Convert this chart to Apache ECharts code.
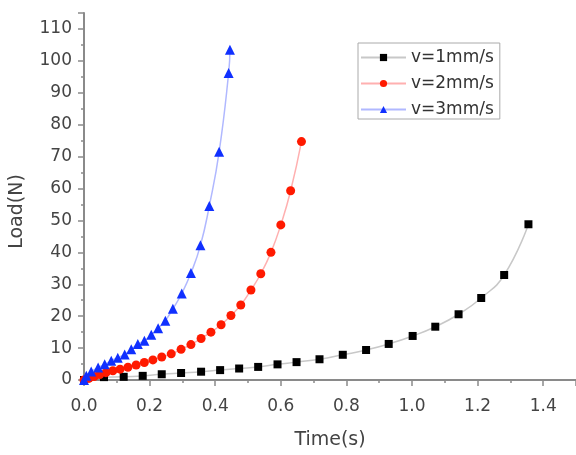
<!DOCTYPE html>
<html>
<head>
<meta charset="utf-8">
<script src="https://cdn.jsdelivr.net/npm/echarts@6/dist/echarts.min.js"></script>
<style>
html,body{margin:0;padding:0;background:#fff;}
#c{width:576px;height:455px;}
</style>
</head>
<body>
<div id="c"></div>
<script>
const seriesNames = ['v=1mm/s', 'v=2mm/s', 'v=3mm/s'];

const t1 = [0, 0.061, 0.121, 0.179, 0.237, 0.296, 0.357, 0.415, 0.473, 0.531, 0.590, 0.648, 0.718, 0.789, 0.860, 0.929, 1.002, 1.071, 1.142, 1.211, 1.281, 1.355];
const load1 = [0, 0.9, 1.0, 1.3, 1.8, 2.2, 2.6, 3.1, 3.6, 4.1, 4.9, 5.6, 6.5, 7.9, 9.4, 11.3, 13.8, 16.7, 20.6, 25.7, 32.9, 48.8];

const t2 = [0, 0.015, 0.031, 0.048, 0.067, 0.088, 0.110, 0.134, 0.159, 0.184, 0.210, 0.237, 0.266, 0.296, 0.326, 0.357, 0.387, 0.418, 0.448, 0.478, 0.509, 0.539, 0.570, 0.600, 0.630, 0.663];
const load2 = [0, 0.5, 1.1, 1.7, 2.3, 2.9, 3.4, 4.0, 4.7, 5.5, 6.3, 7.2, 8.2, 9.6, 11.1, 13.0, 15.0, 17.3, 20.2, 23.5, 28.2, 33.3, 40.0, 48.6, 59.3, 74.7];

const t3 = [0, 0.007, 0.022, 0.043, 0.063, 0.083, 0.103, 0.124, 0.144, 0.164, 0.184, 0.205, 0.226, 0.248, 0.271, 0.298, 0.326, 0.355, 0.382, 0.412, 0.441, 0.445];
const load3 = [0, 1.3, 2.7, 3.9, 4.9, 6.0, 7.0, 8.0, 9.6, 11.3, 12.3, 14.2, 16.2, 18.6, 22.3, 27.1, 33.5, 42.2, 54.5, 71.5, 96.2, 103.5];

const xName = 'Time(s)';
const yName = 'Load(N)';

function pairs(xs, ys) { return xs.map((x, i) => [x, ys[i]]); }

const FONT = '"DejaVu Sans", sans-serif';
const axisColor = '#8a8a8a';
const labelColor = '#444';

const chart = echarts.init(document.getElementById('c'), null, {renderer: 'canvas'});
chart.setOption({
  animation: false,
  backgroundColor: '#fff',
  grid: {left: 84, right: 0, top: 13, bottom: 69, containLabel: false},
  legend: {
    orient: 'vertical',
    left: 358, top: 43,
    itemWidth: 45, itemHeight: 9,
    itemGap: 9,
    padding: [6, 6, 1, 2],
    borderColor: '#aaa', borderWidth: 1,
    textStyle: {fontFamily: FONT, fontSize: 17, color: '#333'},
    data: seriesNames
  },
  xAxis: {
    type: 'value', min: 0, max: 1.5, interval: 0.2,
    name: xName, nameLocation: 'middle', nameGap: 51,
    nameTextStyle: {fontFamily: FONT, fontSize: 19, color: labelColor},
    axisLine: {show: true, onZero: false, lineStyle: {color: axisColor, width: 2}},
    axisTick: {show: true, inside: false, length: 6, lineStyle: {color: axisColor, width: 1.5}},
    minorTick: {show: true, splitNumber: 2, length: 3, lineStyle: {color: axisColor, width: 1.5}},
    splitLine: {show: false},
    axisLabel: {fontFamily: FONT, fontSize: 17, color: labelColor, margin: 18, showMaxLabel: false,
      formatter: v => v.toFixed(1)}
  },
  yAxis: {
    type: 'value', min: 0, max: 115, interval: 10,
    name: yName, nameLocation: 'middle', nameGap: 57,
    nameTextStyle: {fontFamily: FONT, fontSize: 19, color: labelColor, padding: [0, 30, 0, 0]},
    axisLine: {show: true, onZero: false, lineStyle: {color: axisColor, width: 2}},
    axisTick: {show: true, inside: false, length: 6, lineStyle: {color: axisColor, width: 1.5}},
    minorTick: {show: true, splitNumber: 2, length: 3, lineStyle: {color: axisColor, width: 1.5}},
    splitLine: {show: false},
    axisLabel: {fontFamily: FONT, fontSize: 17, color: labelColor, margin: 12, showMaxLabel: false}
  },
  series: [
    {
      name: seriesNames[0], type: 'line', smooth: true,
      data: pairs(t1, load1),
      symbol: 'rect', symbolSize: 8,
      itemStyle: {color: '#000'},
      lineStyle: {color: '#c8c8c8', width: 1.5},
      z: 3
    },
    {
      name: seriesNames[1], type: 'line', smooth: true,
      data: pairs(t2, load2),
      symbol: 'circle', symbolSize: 9,
      itemStyle: {color: '#ff1a00'},
      lineStyle: {color: '#ffb0b0', width: 1.5},
      z: 4
    },
    {
      name: seriesNames[2], type: 'line', smooth: true,
      data: pairs(t3, load3),
      symbol: 'triangle', symbolSize: 10,
      itemStyle: {color: '#1030ff'},
      lineStyle: {color: '#b0b8ff', width: 1.5},
      z: 5
    }
  ]
});
</script>
</body>
</html>
